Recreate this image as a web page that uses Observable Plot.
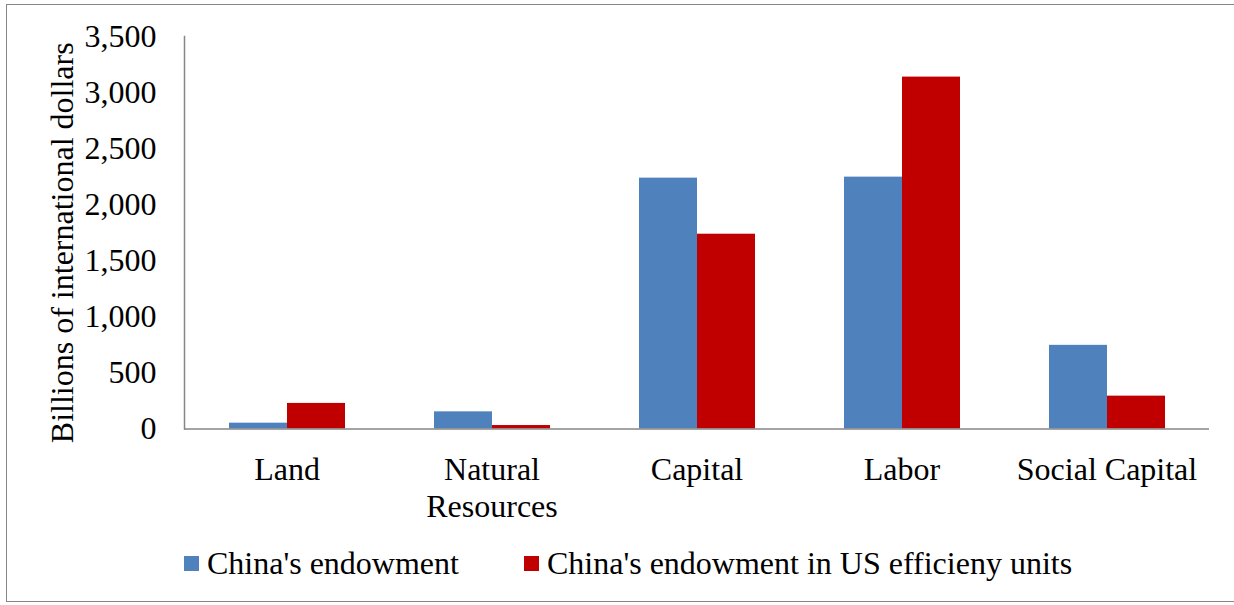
<!DOCTYPE html>
<html>
<head>
<meta charset="utf-8">
<script src="https://cdn.jsdelivr.net/npm/d3@7"></script>
<script src="https://cdn.jsdelivr.net/npm/@observablehq/plot@0.6"></script>
<style>
  html, body { margin: 0; padding: 0; background: #fff; }
  #wrap { position: relative; width: 1234px; height: 605px; overflow: hidden;
          font-family: "Liberation Serif", "Times New Roman", serif; }
  #border { position: absolute; left: 6px; top: 4px; width: 1240px; height: 598px;
            border: 1.5px solid #868686; box-sizing: border-box; }
  #chart { position: absolute; left: 0; top: 0; }
  .legend-item { position: absolute; top: 545px; display: flex; align-items: center;
                 font-size: 32px; color: #000; line-height: 36px; white-space: nowrap; }
  .swatch { width: 15px; height: 15px; margin-right: 8px; }
</style>
</head>
<body>
<div id="wrap">
  <div id="border"></div>
  <div id="chart"></div>
</div>
<script>
// Factor endowments, billions of international dollars
const categories = ["Land", "Natural Resources", "Capital", "Labor", "Social Capital"];
const categoryLabels = ["Land", "Natural\nResources", "Capital", "Labor", "Social Capital"];
const seriesNames = ["China's endowment", "China's endowment in US efficieny units"];
const endowment = [52, 153, 2237, 2246, 746];
const endowmentUS = [228, 31, 1737, 3138, 293];
const seriesColors = ["#4F81BD", "#C00000"];
const yTicks = [0, 500, 1000, 1500, 2000, 2500, 3000, 3500];
const yLabel = "Billions of international dollars";

const rows = categories.flatMap((c, i) => [
  {category: c, series: seriesNames[0], value: endowment[i]},
  {category: c, series: seriesNames[1], value: endowmentUS[i]}
]);
const labelOf = new Map(categories.map((c, i) => [c, categoryLabels[i]]));

const chart = Plot.plot({
  width: 1234,
  height: 530,
  marginLeft: 184,
  marginRight: 25,
  marginTop: 36,
  marginBottom: 101.5,
  style: {fontFamily: "Liberation Serif, Times New Roman, serif", fontSize: "32px", color: "#000", background: "transparent"},
  fx: {domain: categories, paddingInner: 0, paddingOuter: 0},
  x: {domain: seriesNames, paddingInner: 0, paddingOuter: 0.752, axis: null},
  y: {domain: [0, 3500]},
  color: {domain: seriesNames, range: seriesColors},
  marks: [
    Plot.barY(rows, {fx: "category", x: "series", y: "value", fill: "series"}),
    Plot.ruleY([0], {stroke: "#868686", strokeWidth: 1.5}),
    Plot.frame({anchor: "left", facetAnchor: "left", stroke: "#868686", strokeWidth: 1.5}),
    Plot.axisY({
      ticks: yTicks, tickFormat: d3.format(","), tickSize: 0, tickPadding: 28, label: null
    }),
    Plot.text([yLabel], {
      text: d => d, frameAnchor: "left", facetAnchor: "left",
      rotate: -90, dx: -122, dy: 10, lineAnchor: "middle", textAnchor: "middle", fill: "#000"
    }),
    Plot.axisFx({
      anchor: "bottom", tickSize: 0, tickPadding: 25, label: null, lineHeight: 1.16,
      tickFormat: d => labelOf.get(d)
    })
  ]
});
document.getElementById("chart").appendChild(chart);

// Legend below the plot
const wrap = document.getElementById("wrap");
const legendLeft = [184, 524];
seriesNames.forEach((name, i) => {
  const item = document.createElement("div");
  item.className = "legend-item";
  item.style.left = legendLeft[i] + "px";
  const sw = document.createElement("span");
  sw.className = "swatch";
  sw.style.background = seriesColors[i];
  const txt = document.createElement("span");
  txt.textContent = name;
  item.appendChild(sw);
  item.appendChild(txt);
  wrap.appendChild(item);
});
</script>
</body>
</html>
